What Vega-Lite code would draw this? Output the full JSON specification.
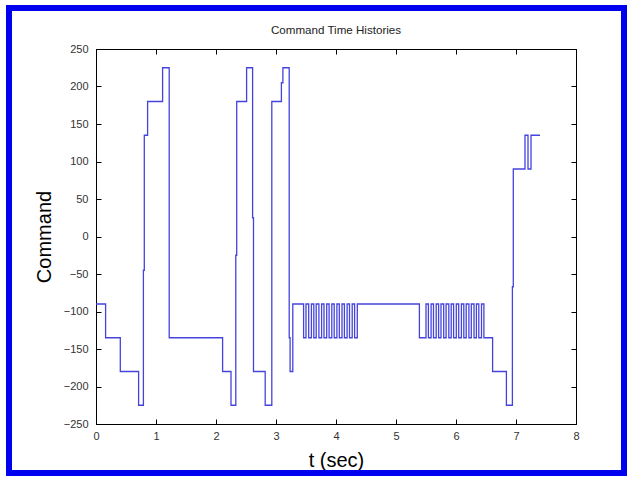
{
  "$schema": "https://vega.github.io/schema/vega-lite/v6.json",
  "width": 480,
  "height": 375,
  "autosize": {"type": "none"},
  "padding": {"left": 96, "top": 49, "right": 56, "bottom": 54},
  "background": "white",
  "title": {"text": "Command Time Histories", "fontSize": 11.6, "font": "Liberation Sans", "fontWeight": "normal", "color": "#222222", "offset": -32, "anchor": "middle"},
  "config": {"view": {"stroke": "black", "strokeWidth": 1}},
  "datasets": {
    "cmd": [
      {"t": 0, "command": -90}, {"t": 0.16, "command": -135}, {"t": 0.405, "command": -180}, {"t": 0.71, "command": -225},
      {"t": 0.79, "command": -45}, {"t": 0.805, "command": 135}, {"t": 0.86, "command": 180}, {"t": 1.11, "command": 225},
      {"t": 1.22, "command": -135}, {"t": 2.11, "command": -180}, {"t": 2.25, "command": -225}, {"t": 2.33, "command": -25},
      {"t": 2.345, "command": 180}, {"t": 2.51, "command": 225}, {"t": 2.61, "command": 25}, {"t": 2.625, "command": -180},
      {"t": 2.82, "command": -225}, {"t": 2.93, "command": 180}, {"t": 3.09, "command": 205}, {"t": 3.115, "command": 225},
      {"t": 3.22, "command": -135}, {"t": 3.235, "command": -180}, {"t": 3.28, "command": -90},
      {"t": 3.46, "command": -135}, {"t": 3.50, "command": -90}, {"t": 3.545, "command": -135}, {"t": 3.59, "command": -90},
      {"t": 3.63, "command": -135}, {"t": 3.67, "command": -90}, {"t": 3.715, "command": -135}, {"t": 3.76, "command": -90},
      {"t": 3.80, "command": -135}, {"t": 3.845, "command": -90}, {"t": 3.885, "command": -135}, {"t": 3.93, "command": -90},
      {"t": 3.97, "command": -135}, {"t": 4.015, "command": -90}, {"t": 4.055, "command": -135}, {"t": 4.10, "command": -90},
      {"t": 4.14, "command": -135}, {"t": 4.185, "command": -90}, {"t": 4.225, "command": -135}, {"t": 4.27, "command": -90},
      {"t": 4.31, "command": -135}, {"t": 4.355, "command": -90},
      {"t": 5.39, "command": -135},
      {"t": 5.50, "command": -90}, {"t": 5.54, "command": -135}, {"t": 5.585, "command": -90}, {"t": 5.625, "command": -135},
      {"t": 5.67, "command": -90}, {"t": 5.71, "command": -135}, {"t": 5.75, "command": -90}, {"t": 5.795, "command": -135},
      {"t": 5.835, "command": -90}, {"t": 5.88, "command": -135}, {"t": 5.92, "command": -90}, {"t": 5.96, "command": -135},
      {"t": 6.005, "command": -90}, {"t": 6.045, "command": -135}, {"t": 6.09, "command": -90}, {"t": 6.13, "command": -135},
      {"t": 6.17, "command": -90}, {"t": 6.215, "command": -135}, {"t": 6.255, "command": -90}, {"t": 6.30, "command": -135},
      {"t": 6.34, "command": -90}, {"t": 6.38, "command": -135}, {"t": 6.425, "command": -90}, {"t": 6.465, "command": -135},
      {"t": 6.61, "command": -180}, {"t": 6.84, "command": -225}, {"t": 6.94, "command": -67}, {"t": 6.955, "command": 90},
      {"t": 7.15, "command": 135}, {"t": 7.2, "command": 90}, {"t": 7.25, "command": 135}, {"t": 7.4, "command": 135}
    ]
  },
  "layer": [
    {
      "data": {"values": [{}]},
      "mark": {"type": "rect", "filled": false, "stroke": "#0000f0", "strokeWidth": 6, "clip": false},
      "encoding": {
        "x": {"datum": -1.45, "type": "quantitative", "scale": {"domain": [0, 8], "nice": false}, "axis": null},
        "x2": {"datum": 8.8},
        "y": {"datum": 304.7, "type": "quantitative", "scale": {"domain": [-250, 250], "nice": false}, "axis": null},
        "y2": {"datum": -315.3}
      }
    },
    {
      "data": {"name": "cmd"},
      "mark": {"type": "line", "interpolate": "step-after", "color": "#4444dd", "strokeWidth": 1.3},
      "encoding": {
        "x": {"field": "t", "type": "quantitative", "scale": {"domain": [0, 8], "nice": false},
          "axis": {"orient": "bottom", "values": [0, 1, 2, 3, 4, 5, 6, 7, 8], "grid": false, "tickSize": -5, "tickColor": "black", "domainColor": "black",
            "labelFont": "Liberation Sans", "labelFontSize": 11, "labelColor": "#333333", "labelPadding": 11, "labelFlush": false,
            "title": "t (sec)", "titleFont": "Liberation Sans", "titleFontSize": 20, "titleFontWeight": "normal", "titleColor": "black", "titlePadding": 9}},
        "y": {"field": "command", "type": "quantitative", "scale": {"domain": [-250, 250], "nice": false},
          "axis": {"orient": "left", "values": [-250, -200, -150, -100, -50, 0, 50, 100, 150, 200, 250], "grid": false, "tickSize": -5, "tickColor": "black", "domainColor": "black",
            "labelFont": "Liberation Sans", "labelFontSize": 11, "labelColor": "#333333", "labelPadding": 13, "labelFlush": false,
            "title": "Command", "titleFont": "Liberation Sans", "titleFontSize": 20, "titleFontWeight": "normal", "titleColor": "black", "titlePadding": 9}}
      }
    },
    {
      "data": {"name": "cmd"},
      "mark": {"type": "line", "opacity": 0},
      "encoding": {
        "x": {"field": "t", "type": "quantitative", "scale": {"domain": [0, 8], "nice": false},
          "axis": {"orient": "top", "values": [0, 1, 2, 3, 4, 5, 6, 7, 8], "grid": false, "tickSize": -5, "tickColor": "black", "domainColor": "black", "labels": false, "title": null}},
        "y": {"field": "command", "type": "quantitative", "scale": {"domain": [-250, 250], "nice": false},
          "axis": {"orient": "right", "values": [-250, -200, -150, -100, -50, 0, 50, 100, 150, 200, 250], "grid": false, "tickSize": -5, "tickColor": "black", "domainColor": "black", "labels": false, "title": null}}
      }
    }
  ]
}
